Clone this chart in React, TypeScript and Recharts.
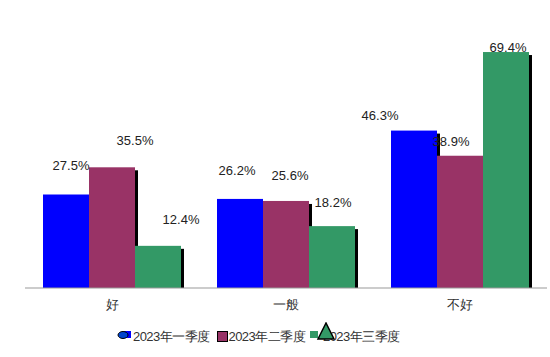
import { BarChart, Bar, XAxis, YAxis, LabelList } from "recharts";

const categories = ["好", "一般", "不好"];
const q1 = [27.5, 26.2, 46.3];
const q2 = [35.5, 25.6, 38.9];
const q3 = [12.4, 18.2, 69.4];
const seriesNames = ["2023年一季度", "2023年二季度", "2023年三季度"];

// label nudges [dx, dy] per bar, to match the reference placement
const labelNudge = [
  [[5, -29], [23, -27], [23, -26]],
  [[-3, -28], [4, -25], [1, -24]],
  [[-34, -15], [-9, -14], [2, -5]],
];

const colors = ["#0000ff", "#993366", "#339966"];

const data = categories.map((c, i) => ({ name: c, q1: q1[i], q2: q2[i], q3: q3[i] }));

const ShadowBar = (props: any) => {
  const { x, y, width, height, fill } = props;
  if (!height) return null;
  return (
    <g>
      <rect x={x + 3} y={y + 3} width={width} height={Math.max(height - 3, 0)} fill="#000" />
      <rect x={x} y={y} width={width} height={height} fill={fill} />
    </g>
  );
};

const makeLabel = (s: number) => (props: any) => {
  const { x, y, width, value, index } = props;
  const [dx, dy] = labelNudge[index][s];
  return (
    <text
      x={x + width / 2 + dx}
      y={y + dy}
      textAnchor="middle"
      dominantBaseline="central"
      fontSize={13}
      fontFamily="Liberation Sans, Arial, sans-serif"
      fill="#222"
    >
      {value}%
    </text>
  );
};

const LegendBox = () => (
  <svg width={550} height={30} style={{ position: "absolute", left: 0, top: 322 }}>
    <g fontFamily="Liberation Sans, Arial, sans-serif" fontSize={13} fill="#333">
      <rect x={124} y={9} width={7} height={7} fill={colors[0]} />
      <ellipse cx={123} cy={13} rx={5} ry={3.5} fill="#0044cc" stroke="#000" strokeWidth={1} />
      <text x={133} y={19} textLength={77}>{seriesNames[0]}</text>
      <rect x={217.5} y={9.5} width={10} height={10} fill={colors[1]} stroke="#000" />
      <text x={228.5} y={19} textLength={77}>{seriesNames[1]}</text>
      <rect x={310} y={9} width={8} height={7} fill={colors[2]} />
      <text x={323} y={19} textLength={77}>{seriesNames[2]}</text>
      <polygon points="326,1 318,17 334,17" fill={colors[2]} stroke="#000" strokeWidth={1.5} />
    </g>
  </svg>
);

export default function App() {
  return (
    <div style={{ position: "absolute", left: 0, top: 0, width: 550, height: 357, background: "#fff" }}>
      <BarChart
        width={550}
        height={357}
        data={data}
        margin={{ top: 50, right: 3, bottom: 49, left: 25 }}
        barGap={0}
        barSize={46}
      >
        <XAxis
          dataKey="name"
          axisLine={{ stroke: "#999" }}
          tickLine={false}
          tick={{ fill: "#333", fontSize: 13, fontFamily: "serif" }}
          tickMargin={6}
          height={20}
        />
        <YAxis hide domain={[0, 70]} width={0} />
        <Bar dataKey="q1" name={seriesNames[0]} fill={colors[0]} shape={ShadowBar} isAnimationActive={false}>
          <LabelList dataKey="q1" content={makeLabel(0)} />
        </Bar>
        <Bar dataKey="q2" name={seriesNames[1]} fill={colors[1]} shape={ShadowBar} isAnimationActive={false}>
          <LabelList dataKey="q2" content={makeLabel(1)} />
        </Bar>
        <Bar dataKey="q3" name={seriesNames[2]} fill={colors[2]} shape={ShadowBar} isAnimationActive={false}>
          <LabelList dataKey="q3" content={makeLabel(2)} />
        </Bar>
      </BarChart>
      <LegendBox />
    </div>
  );
}
